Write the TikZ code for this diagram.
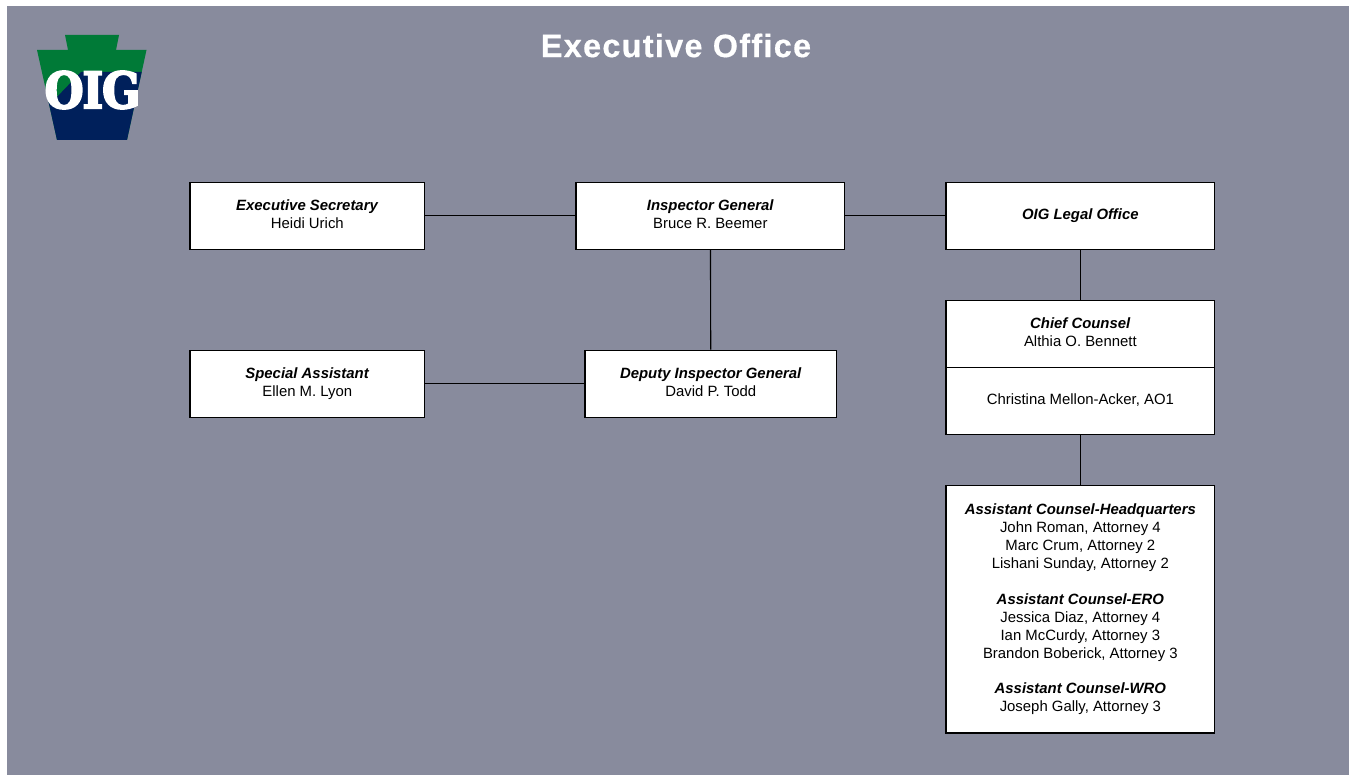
\documentclass[tikz,border=0pt]{standalone}
\usepackage{fontspec}
\setmainfont{Liberation Sans}
\newfontfamily\titlefont[LetterSpace=4.0,FakeBold=0.5]{Liberation Sans}
\newfontfamily\logofont[FakeBold=4,LetterSpace=-3]{DejaVu Serif}
\definecolor{bgc}{HTML}{888B9D}
\definecolor{kgreen}{HTML}{007A37}
\definecolor{knavy}{HTML}{00205B}
\tikzset{
  box/.style={draw=black,fill=white,line width=1.3pt,rectangle,inner sep=0pt,align=center,font=\fontsize{14.9}{18}\selectfont,anchor=north west},
  conn/.style={draw=black,line width=1.1pt},
}
\newcommand{\lnstrut}{\rule[-3.8pt]{0pt}{14.2pt}}
\newcommand{\rolett}[1]{\lnstrut\textbf{\textit{#1}}}
\newcommand{\plainln}[1]{\lnstrut #1}
\begin{document}
\begin{tikzpicture}[x=1pt,y=-1pt]
\useasboundingbox (0,0) rectangle (1349,775);
\fill[white] (0,0) rectangle (1349,775);
\fill[bgc] (7,6) rectangle (1349,775);
% logo
\fill[kgreen] (65,35) -- (119,35) -- (116,50) -- (146.5,50) -- (127,140) -- (57,140) -- (37,50) -- (68,50) -- cycle;
\fill[knavy] (81,72) -- (141.7,72) -- (127,140) -- (57,140) -- (47.8,98.5) -- (55.5,98.5) -- cycle;
\node[text=white,font=\logofont\bfseries\fontsize{50}{50}\selectfont,inner sep=0pt,xscale=0.9,transform shape] (logo) at (92.5,90) {OIG};
\node[text=white,font=\titlefont\bfseries\fontsize{32.4}{36}\selectfont,inner sep=0pt] (title) at (676,45.5) {Executive Office};
% boxes
\begin{scope}[shift={(-0.3,-0.3)}]
\node[box,minimum width=234.6pt,minimum height=67pt] (es) at (189.7,182) {\rolett{Executive Secretary}\\\plainln{Heidi Urich}};
\node[box,minimum width=268.6pt,minimum height=67pt] (ig) at (575.7,182) {\rolett{Inspector General}\\\plainln{Bruce R. Beemer}};
\node[box,minimum width=268.6pt,minimum height=67pt] (lo) at (945.7,182) {\rolett{OIG Legal Office}};
\node[box,minimum width=234.6pt,minimum height=67pt] (sa) at (189.7,350) {\rolett{Special Assistant}\\\plainln{Ellen M. Lyon}};
\node[box,minimum width=251.6pt,minimum height=67pt] (dig) at (584.7,350) {\rolett{Deputy Inspector General}\\\plainln{David P. Todd}};
\node[box,minimum width=268.6pt,minimum height=67pt] (cc) at (945.7,300) {\rolett{Chief Counsel}\\\plainln{Althia O. Bennett}};
\node[box,minimum width=268.6pt,minimum height=67pt] (ao) at (945.7,367) {\plainln{Christina Mellon-Acker, AO1}};
\node[box,minimum width=268.6pt,minimum height=247.6pt] (ac) at (945.7,485) {\rolett{Assistant Counsel-Headquarters}\\\plainln{John Roman, Attorney 4}\\\plainln{Marc Crum, Attorney 2}\\\plainln{Lishani Sunday, Attorney 2}\\[18pt]\rolett{Assistant Counsel-ERO}\\\plainln{Jessica Diaz, Attorney 4}\\\plainln{Ian McCurdy, Attorney 3}\\\plainln{Brandon Boberick, Attorney 3}\\[17pt]\rolett{Assistant Counsel-WRO}\\\plainln{Joseph Gally, Attorney 3}};
\end{scope}
% connectors
\draw[conn] (es) -- (ig);
\draw[conn] (ig) -- (lo);
\draw[conn] (ig) -- (dig);
\draw[conn] (sa) -- (dig);
\draw[conn] (lo) -- (cc);
\draw[conn] (ao) -- (ac);
\end{tikzpicture}
\end{document}
